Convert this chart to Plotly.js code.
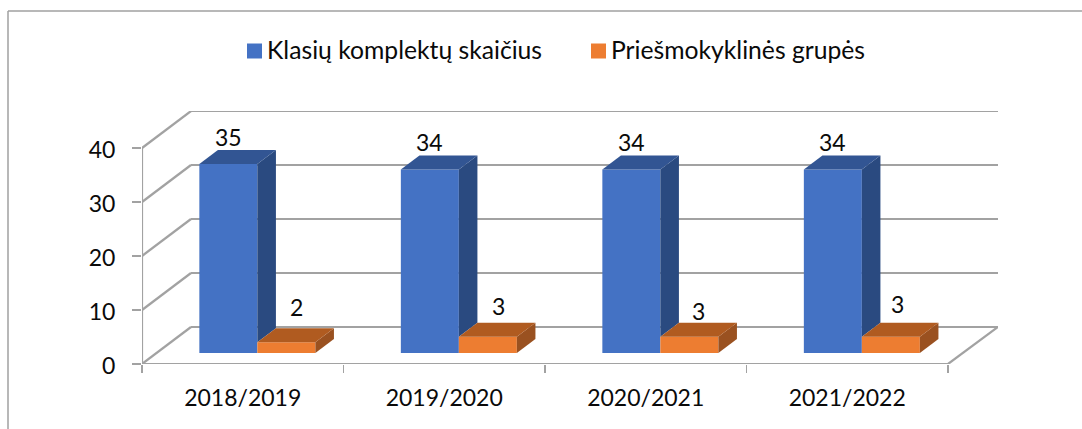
<!DOCTYPE html>
<html><head><meta charset="utf-8">
<script src="https://cdn.plot.ly/plotly-3.0.1.min.js"></script>
<style>html,body{margin:0;padding:0;background:#fff}#c{width:1082px;height:429px}</style>
</head><body><div id="c"></div>
<script>
const categories = ['2018/2019','2019/2020','2020/2021','2021/2022'];
const seriesNames = ['Klasių komplektų skaičius','Priešmokyklinės grupės'];
const classSets = [35,34,34,34];
const preschoolGroups = [2,3,3,3];
const valueTicks = [0,10,20,30,40];
const labelShiftX = [[0,0,0,0],[10,11,9,7]];
const labelShiftY = [[0,0,0,0],[2,-2,-7,0]];

// projection of the 3-D box, in axis units
const PLOT = {l:142, r:998, t:111, b:364};
const pxPerCat = 201.5, pxPerVal = 5.4;
const depthX = 49/pxPerCat, depthY = 37/pxPerVal;     // full floor depth
const barFrontD = 0.297, barBackD = 0.676;            // bar depth extent along floor
const gapLeft = (199.5-142-14.7)/pxPerCat, barW = 58/pxPerCat;
const xMax = (PLOT.r-PLOT.l)/pxPerCat, yMax = (PLOT.b-PLOT.t)/pxPerVal;

const px = (x,d)=>x+d*depthX, py=(v,d)=>v+d*depthY;
const grey='#A2A2A2';
const colors=[{front:'#4472C4',top:'#325593',side:'#2A4A80'},{front:'#ED7D31',top:'#B05B20',side:'#9A5120'}];

function poly(pts,color){
  return {type:'scatter',mode:'lines',x:pts.map(p=>px(p[0],p[2])),y:pts.map(p=>py(p[1],p[2])),
    fill:'toself',fillcolor:color,line:{width:0,color:color},hoverinfo:'skip',showlegend:false};
}
const traces=[];
const series=[classSets,preschoolGroups];
series.forEach((vals,s)=>{
  traces.push({type:'bar',name:seriesNames[s],showlegend:false,
    x:vals.map((v,i)=>px(i+gapLeft+barW*(s+0.5),barFrontD)),
    y:vals, base:vals.map(()=>py(0,barFrontD)), width:barW,
    marker:{color:colors[s].front,line:{width:0}},hoverinfo:'skip'});
});
series.forEach((vals,s)=>{
  vals.forEach((v,i)=>{
    const x0=i+gapLeft+barW*s, x1=x0+barW;
    const low = s===0 ? preschoolGroups[i] : 0; // lower part of the side is hidden by the next bar
    traces.push(poly([[x1,v,barFrontD],[x1,v,barBackD],[x1,low,barBackD],[x1,low,barFrontD]],colors[s].side));
    traces.push(poly([[x0,v,barFrontD],[x0,v,barBackD],[x1,v,barBackD],[x1,v,barFrontD]],colors[s].top));
  });
});

const lineShape=(xa,ya,xb,yb)=>({type:'line',layer:'below',xref:'x',yref:'y',x0:xa,y0:ya,x1:xb,y1:yb,line:{color:grey,width:2.2}});
const shapes=[];
valueTicks.forEach(v=>{
  shapes.push(lineShape(0,v,depthX,py(v,1)));
  shapes.push(lineShape(depthX,py(v,1),xMax,py(v,1)));
});
shapes.push(lineShape(0,0,0,40));
shapes.push(lineShape(0,0,categories.length,0));
shapes.push(lineShape(categories.length,0,xMax,py(0,1)));
// chart frame
const fx=p=>(p-PLOT.l)/(PLOT.r-PLOT.l), fy=p=>(PLOT.b-p)/(PLOT.b-PLOT.t);
shapes.push({type:'line',xref:'paper',yref:'paper',x0:fx(8),y0:fy(11),x1:fx(8),y1:fy(429),line:{color:'#A0A0A0',width:1.5}});
shapes.push({type:'line',xref:'paper',yref:'paper',x0:fx(8),y0:fy(11),x1:fx(1082),y1:fy(11),line:{color:'#A0A0A0',width:1.5}});

const font='Lato, sans-serif', ink='#0a0a0a';
const annotations=[];
series.forEach((vals,s)=>vals.forEach((v,i)=>{
  annotations.push({x:px(i+gapLeft+barW*(s+0.5),barFrontD),y:py(v,barFrontD),xref:'x',yref:'y',text:String(v),showarrow:false,
    xanchor:'center',yanchor:'bottom',xshift:labelShiftX[s][i],yshift:(s===0?11:17)+labelShiftY[s][i],font:{family:font,size:23,color:ink}});
}));
// legend
const legendSwatchX=[247,591], legendTextX=[268,612], legendY=51, swatch=15;
seriesNames.forEach((n,s)=>{
  shapes.push({type:'rect',xref:'paper',yref:'paper',x0:fx(legendSwatchX[s]),x1:fx(legendSwatchX[s]+swatch),
    y0:fy(legendY-swatch/2),y1:fy(legendY+swatch/2),fillcolor:colors[s].front,line:{width:0}});
  annotations.push({xref:'paper',yref:'paper',x:fx(legendTextX[s]),y:fy(legendY),xanchor:'left',yanchor:'middle',
    text:n,showarrow:false,borderpad:0,borderwidth:0,xshift:-1,yshift:2,font:{family:font,size:24.7,color:ink}});
});

const layout={
  width:1082,height:429,autosize:false,
  margin:{l:PLOT.l,r:1082-PLOT.r,t:PLOT.t,b:429-PLOT.b,pad:0},
  paper_bgcolor:'#fff',plot_bgcolor:'rgba(0,0,0,0)',
  font:{family:font,color:ink},
  barmode:'overlay',showlegend:false,
  xaxis:{type:'linear',range:[0,xMax],tickmode:'array',tickvals:categories.map((c,i)=>i+0.5),ticktext:categories,
    showgrid:false,zeroline:false,showline:false,ticks:'',tickfont:{family:font,size:23,color:ink},ticklabelstandoff:18,
    minor:{tickmode:'array',tickvals:[0,1,2,3,4],ticks:'outside',ticklen:8,tickcolor:grey,tickwidth:1.5,showgrid:false},fixedrange:true},
  yaxis:{type:'linear',range:[0,yMax],tickmode:'array',tickvals:valueTicks,showgrid:false,zeroline:false,showline:false,
    ticks:'outside',ticklen:9,tickcolor:grey,tickwidth:1.5,tickfont:{family:font,size:23,color:ink},ticklabelshift:2,ticklabelstandoff:12,fixedrange:true},
  shapes,annotations
};
Plotly.newPlot('c',traces,layout,{displayModeBar:false,staticPlot:true});
</script></body></html>
